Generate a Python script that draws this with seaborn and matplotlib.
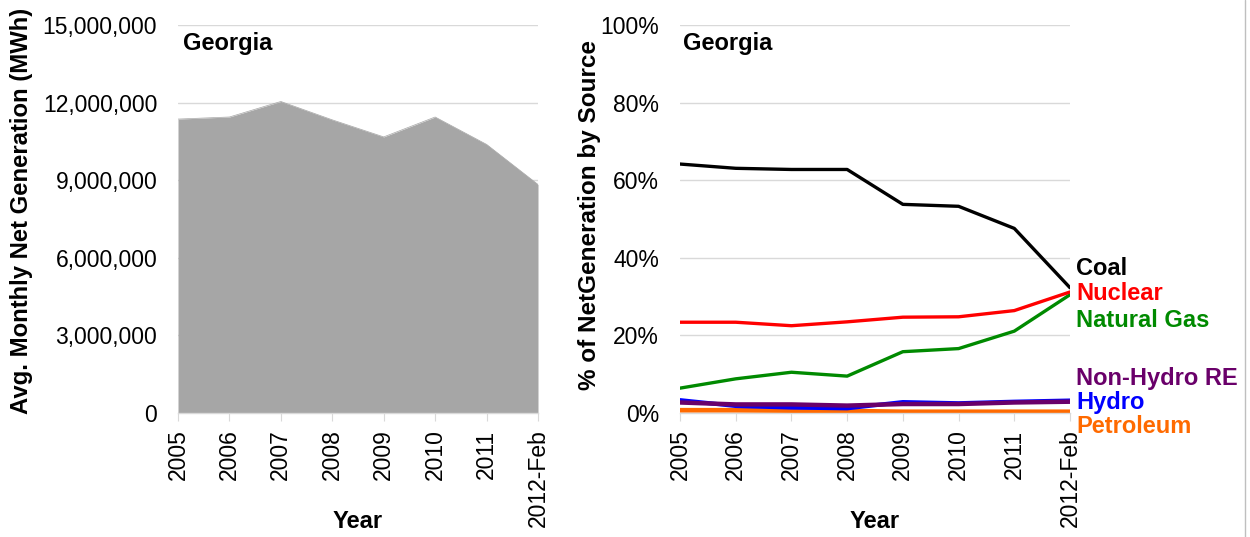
import pandas as pd
import matplotlib.pyplot as plt
import matplotlib.ticker as mticker
from matplotlib.lines import Line2D
import seaborn as sns
import numpy as np

# data
years = ["2005", "2006", "2007", "2008", "2009", "2010", "2011", "2012-Feb"]
net_gen = [11370000, 11450000, 12050000, 11340000, 10680000, 11450000, 10390000, 8840000]

coal = [64.2, 63.1, 62.8, 62.8, 53.8, 53.3, 47.6, 32.3]
nuclear = [23.4, 23.4, 22.5, 23.5, 24.7, 24.8, 26.4, 31.2]
natural_gas = [6.4, 8.8, 10.5, 9.5, 15.8, 16.6, 21.1, 30.5]
non_hydro_re = [2.7, 2.2, 2.2, 1.9, 2.3, 2.3, 2.7, 2.9]
hydro = [3.3, 1.8, 1.4, 1.2, 2.8, 2.5, 2.9, 3.2]
petroleum = [0.7, 0.7, 0.6, 0.5, 0.3, 0.3, 0.3, 0.3]

sources = ["Coal", "Nuclear", "Natural Gas", "Non-Hydro RE", "Hydro", "Petroleum"]
colors = {"Coal": "#000000", "Nuclear": "#ff0000", "Natural Gas": "#008a00",
          "Non-Hydro RE": "#6a006a", "Hydro": "#0000ff", "Petroleum": "#ff6a00"}
widths = {"Coal": 2.4, "Nuclear": 2.4, "Natural Gas": 2.4,
          "Non-Hydro RE": 3.2, "Hydro": 3.0, "Petroleum": 3.4}
# label heights (in % units) on the right edge
label_y = {"Coal": 37.2, "Nuclear": 30.7, "Natural Gas": 23.8,
           "Non-Hydro RE": 9.0, "Hydro": 2.7, "Petroleum": -3.4}

share = pd.DataFrame({"Year": years * 6,
                      "Source": np.repeat(sources, len(years)),
                      "Share": coal + nuclear + natural_gas + non_hydro_re + hydro + petroleum})

sns.set_style("white")
plt.rcParams["font.family"] = ["Liberation Sans", "DejaVu Sans"]
plt.rcParams["text.color"] = "black"
plt.rcParams["xtick.color"] = "black"
plt.rcParams["ytick.color"] = "black"
plt.rcParams["axes.labelcolor"] = "black"

fig = plt.figure(figsize=(12.5, 5.37), dpi=100)
ax1 = fig.add_axes([0.1424, 0.231, 0.288, 0.722])
ax2 = fig.add_axes([0.544, 0.231, 0.312, 0.722])

grid_c = "#d9d9d9"

# left: area chart
xi = np.arange(len(years))
sns.lineplot(x=xi, y=net_gen, ax=ax1, color="#a6a6a6", linewidth=0.5)
ax1.fill_between(xi, net_gen, color="#a6a6a6", linewidth=0, zorder=2)
ax1.set_ylim(0, 15000000)
ax1.set_yticks(np.arange(0, 15000001, 3000000))
ax1.yaxis.set_major_formatter(mticker.StrMethodFormatter("{x:,.0f}"))
ax1.set_ylabel("Avg. Monthly Net Generation (MWh)", fontsize=17.2, fontweight="bold")
ax1.yaxis.set_label_coords(-0.403, 0.52)
ax1.tick_params(axis="y", pad=15)
ax1.text(0.014, 0.936, "Georgia", transform=ax1.transAxes, fontsize=17, fontweight="bold",
         va="baseline")

# right: line chart
sns.lineplot(data=share, x="Year", y="Share", hue="Source", palette=colors,
             hue_order=sources[::-1], size="Source", sizes=widths, ax=ax2,
             legend=False, sort=False)
ax2.set_ylim(0, 100)
ax2.set_yticks(np.arange(0, 101, 20))
ax2.yaxis.set_major_formatter(mticker.PercentFormatter(decimals=0))
ax2.set_ylabel("% of NetGeneration by Source", fontsize=17.5, fontweight="bold")
ax2.yaxis.set_label_coords(-0.203, 0.51)
ax2.tick_params(axis="y", pad=15)
ax2.text(0.008, 0.936, "Georgia", transform=ax2.transAxes, fontsize=17, fontweight="bold",
         va="baseline")
for s in sources:
    ax2.text(len(years) - 1 + 0.11, label_y[s], s, color=colors[s], fontsize=17,
             fontweight="bold", va="center", ha="left", clip_on=False)

for ax in (ax1, ax2):
    ax.set_xlim(0, len(years) - 1)
    ax.set_xticks(xi)
    ax.set_xticklabels(years, rotation=90)
    ax.set_xlabel("Year", fontsize=17, fontweight="bold")
    ax.xaxis.set_label_coords(0.5, -0.25)
    ax.xaxis.label.set_verticalalignment("top")
    ax.yaxis.grid(True, color=grid_c, linewidth=1)
    ax.set_axisbelow(True)
    for sp in ("top", "right", "left"):
        ax.spines[sp].set_visible(False)
    ax.spines["bottom"].set_color(grid_c)
    ax.spines["bottom"].set_linewidth(1)
    ax.tick_params(axis="x", which="major", bottom=True, length=6, color=grid_c,
                   labelsize=16.5, pad=6)
    ax.tick_params(axis="y", length=0, labelsize=16.5)

# thin frame line at the right edge
fig.add_artist(Line2D([0.996, 0.996], [0, 1], transform=fig.transFigure,
                      color="#bfbfbf", linewidth=1))

fig.savefig("out.png", dpi=100)
